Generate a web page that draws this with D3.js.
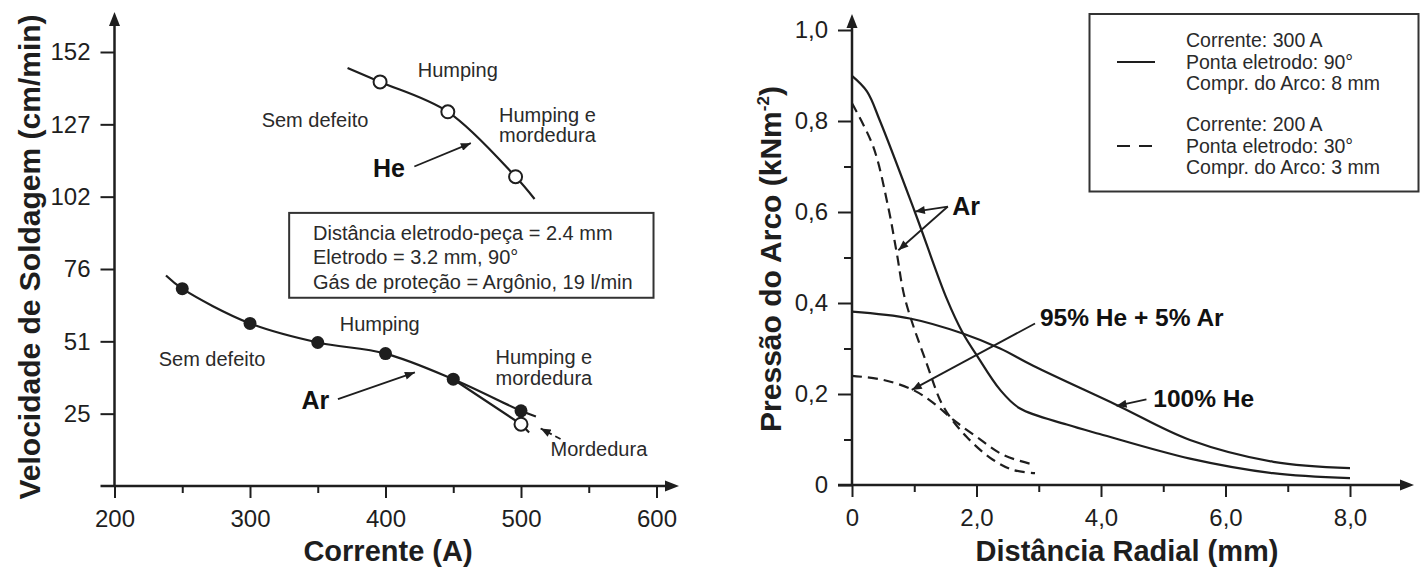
<!DOCTYPE html>
<html lang="pt">
<head>
<meta charset="UTF-8">
<title>Velocidade de soldagem e pressão do arco</title>
<script src="https://d3js.org/d3.v7.min.js"></script>
<style>
  body { margin: 0; background: #fff; }
  text { font-family: "Liberation Sans", Arial, sans-serif; }
</style>
</head>
<body>
<script>
// left chart: welding speed (cm/min) vs current (A)
const arCurrent = [250, 300, 350, 400, 450, 500];
const arSpeed = [69.3, 57.1, 50.4, 46.5, 37.5, 26.4];
const arLineCurrent = [238, 250, 300, 350, 400, 450, 500, 511];
const arLineSpeed = [73.9, 69.3, 57.1, 50.4, 46.5, 37.5, 26.4, 24.4];
const arUndercutCurrent = [450, 500, 506];
const arUndercutSpeed = [37.5, 21.7, 18.8];
const arOpenCurrent = [500];
const arOpenSpeed = [21.7];
const heCurrent = [396, 446, 496];
const heSpeed = [141.9, 131.4, 108.6];
const heLineCurrent = [372, 396, 446, 496, 510];
const heLineSpeed = [146.8, 141.9, 131.4, 108.6, 100.8];
const leftXTicks = [200, 300, 400, 500, 600];
const leftXMinor = [250, 350, 450, 550];
const leftYTicks = [25.4, 50.8, 76.2, 101.6, 127, 152.4];
const leftYTickLabels = ["25", "51", "76", "102", "127", "152"];
const conditions = ["Distância eletrodo-peça = 2.4 mm", "Eletrodo = 3.2 mm, 90°", "Gás de proteção = Argônio, 19 l/min"];

// right chart: arc pressure vs radial distance
const arSolidR = [0, 0.24, 0.45, 1.01, 1.52, 1.78, 2.0, 2.38, 2.7, 3.45, 3.98, 5.43, 6.76, 8.0];
const arSolidP = [0.899, 0.865, 0.80, 0.60, 0.41, 0.334, 0.286, 0.209, 0.168, 0.133, 0.112, 0.058, 0.026, 0.015];
const heSolidR = [0, 0.93, 1.78, 2.38, 2.91, 4.25, 5.43, 6.77, 8.0];
const heSolidP = [0.381, 0.366, 0.333, 0.30, 0.262, 0.176, 0.099, 0.051, 0.037];
const arDashR = [0, 0.34, 0.58, 0.72, 0.85, 1.2, 1.47, 1.84, 2.27, 2.59, 2.94];
const arDashP = [0.839, 0.744, 0.612, 0.509, 0.41, 0.267, 0.172, 0.106, 0.055, 0.033, 0.026];
const heDashR = [0, 0.5, 0.98, 1.31, 1.63, 2.0, 2.43, 2.94];
const heDashP = [0.24, 0.231, 0.209, 0.18, 0.143, 0.106, 0.066, 0.044];
const rightXTicks = [0, 2, 4, 6, 8];
const rightXTickLabels = ["0", "2,0", "4,0", "6,0", "8,0"];
const rightXMinor = [1, 3, 5, 7];
const rightYTicks = [0, 0.2, 0.4, 0.6, 0.8, 1.0];
const rightYTickLabels = ["0", "0,2", "0,4", "0,6", "0,8", "1,0"];
const rightYMinor = [0.1, 0.3, 0.5, 0.7];
const legendSolid = ["Corrente: 300 A", "Ponta eletrodo: 90°", "Compr. do Arco: 8 mm"];
const legendDashed = ["Corrente: 200 A", "Ponta eletrodo: 30°", "Compr. do Arco: 3 mm"];

const ink = "#1e1e1e";
const svg = d3.select("body").append("svg").attr("width", 1420).attr("height", 570);

const defs = svg.append("defs");
defs.append("marker").attr("id", "head")
  .attr("viewBox", "0 0 10 8").attr("refX", 10).attr("refY", 4)
  .attr("markerWidth", 11).attr("markerHeight", 8)
  .attr("markerUnits", "userSpaceOnUse").attr("orient", "auto")
  .append("path").attr("d", "M0,0L10,4L0,8Z").attr("fill", ink);

const xL = d3.scaleLinear().domain([200, 600]).range([114.5, 656.5]);
const yL = d3.scaleLinear().domain([0, 152.4]).range([486, 52]);
const xR = d3.scaleLinear().domain([0, 8]).range([852, 1350]);
const yR = d3.scaleLinear().domain([0, 1]).range([485, 30]);

function styleAxis(g) {
  g.select(".domain").remove();
  g.selectAll("line").attr("stroke", ink).attr("stroke-width", 2);
  g.selectAll("text").attr("fill", ink).style("font-size", "24px")
    .style("font-family", "'Liberation Sans', Arial, sans-serif");
}

function drawAxes(x, y, xTicks, xLabels, xMinor, yTicks, yLabels, yMinor, xEnd, yTop) {
  const x0 = x.range()[0], y0 = y.range()[0];
  svg.append("g").attr("transform", `translate(0,${y0})`)
    .call(d3.axisBottom(x).tickValues(xTicks).tickFormat((d, i) => xLabels[i]).tickSize(12).tickPadding(12))
    .call(styleAxis);
  svg.append("g").attr("transform", `translate(0,${y0})`)
    .call(d3.axisBottom(x).tickValues(xMinor).tickFormat("").tickSize(7))
    .call(styleAxis);
  svg.append("g").attr("transform", `translate(${x0},0)`)
    .call(d3.axisLeft(y).tickValues(yTicks).tickFormat((d, i) => yLabels[i]).tickSize(14).tickPadding(10))
    .call(styleAxis);
  if (yMinor.length) {
    svg.append("g").attr("transform", `translate(${x0},0)`)
      .call(d3.axisLeft(y).tickValues(yMinor).tickFormat("").tickSize(8))
      .call(styleAxis);
  }
  svg.append("line").attr("x1", x0 - 14).attr("x2", xEnd - 10).attr("y1", y0).attr("y2", y0)
    .attr("stroke", ink).attr("stroke-width", 2.5);
  svg.append("line").attr("x1", x0).attr("x2", x0).attr("y1", y0).attr("y2", yTop + 10)
    .attr("stroke", ink).attr("stroke-width", 2.5);
  svg.append("path").attr("d", `M${xEnd},${y0}L${xEnd - 14},${y0 - 5.5}L${xEnd - 14},${y0 + 5.5}Z`).attr("fill", ink);
  svg.append("path").attr("d", `M${x0},${yTop}L${x0 - 5.5},${yTop + 14}L${x0 + 5.5},${yTop + 14}Z`).attr("fill", ink);
}

drawAxes(xL, yL, leftXTicks, leftXTicks.map(String), leftXMinor, leftYTicks, leftYTickLabels, [], 679, 12);
drawAxes(xR, yR, rightXTicks, rightXTickLabels, rightXMinor, rightYTicks, rightYTickLabels, rightYMinor, 1414, 14);

// axis titles
svg.append("text").attr("x", 388).attr("y", 561).attr("text-anchor", "middle")
  .attr("font-size", 29).attr("font-weight", "bold").attr("fill", ink).text("Corrente (A)");
svg.append("text").attr("x", 1127).attr("y", 561).attr("text-anchor", "middle")
  .attr("font-size", 29).attr("font-weight", "bold").attr("fill", ink).text("Distância Radial (mm)");
svg.append("text").attr("transform", "translate(40,257) rotate(-90)").attr("text-anchor", "middle")
  .attr("font-size", 30).attr("font-weight", "bold").attr("fill", ink).text("Velocidade de Soldagem (cm/min)");
const pt = svg.append("text").attr("transform", "translate(781,259) rotate(-90)").attr("text-anchor", "middle")
  .attr("font-size", 30).attr("font-weight", "bold").attr("fill", ink);
pt.append("tspan").text("Pressão do Arco (kNm");
pt.append("tspan").attr("font-size", 17).attr("dy", -12).text("-2");
pt.append("tspan").attr("dy", 12).text(")");

// left chart curves
const lineL = d3.line().x(d => xL(d[0])).y(d => yL(d[1])).curve(d3.curveCatmullRom.alpha(0.5));
const zipped = (a, b) => a.map((v, i) => [v, b[i]]);
function curve(line, pts, dash) {
  svg.append("path").attr("d", line(pts)).attr("fill", "none").attr("stroke", ink)
    .attr("stroke-width", 2.2).attr("stroke-dasharray", dash || null);
}
curve(lineL, zipped(heLineCurrent, heLineSpeed));
curve(lineL, zipped(arLineCurrent, arLineSpeed));
curve(d3.line().x(d => xL(d[0])).y(d => yL(d[1])), zipped(arUndercutCurrent, arUndercutSpeed));

svg.selectAll("circle.ar").data(zipped(arCurrent, arSpeed)).join("circle").attr("class", "ar")
  .attr("cx", d => xL(d[0])).attr("cy", d => yL(d[1])).attr("r", 6.5).attr("fill", ink);
svg.selectAll("circle.open").data(zipped(heCurrent, heSpeed).concat(zipped(arOpenCurrent, arOpenSpeed)))
  .join("circle").attr("class", "open")
  .attr("cx", d => xL(d[0])).attr("cy", d => yL(d[1])).attr("r", 6.5)
  .attr("fill", "#fff").attr("stroke", ink).attr("stroke-width", 2);

function note(x, y, t, bold, size) {
  return svg.append("text").attr("x", x).attr("y", y).attr("fill", bold ? "#111" : "#2a2a2a")
    .attr("font-size", size || 20).attr("font-weight", bold ? "bold" : "normal").text(t);
}
function arrow(x1, y1, x2, y2, dash) {
  svg.append("line").attr("x1", x1).attr("y1", y1).attr("x2", x2).attr("y2", y2)
    .attr("stroke", ink).attr("stroke-width", 1.8).attr("stroke-dasharray", dash || null)
    .attr("marker-end", "url(#head)");
}

// left annotations (positioned in data units)
note(xL(423.8), yL(143.7), "Humping");
note(xL(308.6), yL(126.1), "Sem defeito");
note(xL(483.8), yL(127.9), "Humping e");
note(xL(483.8), yL(120.9), "mordedura");
note(xL(390.7), yL(108.6), "He", true, 25);
arrow(xL(421.3), yL(112.2), xL(463), yL(120.4));

svg.append("rect").attr("x", xL(328.9)).attr("y", yL(95.9))
  .attr("width", xL(597.8) - xL(328.9)).attr("height", yL(66.1) - yL(95.9))
  .attr("fill", "#fff").attr("stroke", "#333").attr("stroke-width", 2);
conditions.forEach((t, i) => note(xL(346.5), yL(86.5) + i * 24.5, t));

note(xL(366.2), yL(54.3), "Humping");
note(xL(232.6), yL(42.0), "Sem defeito");
note(xL(481.2), yL(42.7), "Humping e");
note(xL(481.2), yL(35.4), "mordedura");
note(xL(338), yL(27), "Ar", true, 25);
arrow(xL(364.9), yL(30.5), xL(421.7), yL(39.9));
note(xL(521.8), yL(10.5), "Mordedura");
arrow(xL(529.2), yL(16.5), xL(514.5), yL(20.2), "6,4");

// right chart curves
const lineR = d3.line().x(d => xR(d[0])).y(d => yR(d[1])).curve(d3.curveCatmullRom.alpha(0.5));
curve(lineR, zipped(arSolidR, arSolidP));
curve(lineR, zipped(heSolidR, heSolidP));
curve(lineR, zipped(arDashR, arDashP), "10,6");
curve(lineR, zipped(heDashR, heDashP), "10,6");

// right annotations
note(xR(1.61), yR(0.593), "Ar", true, 25);
arrow(xR(1.54), yR(0.612), xR(1.01), yR(0.601));
arrow(xR(1.54), yR(0.612), xR(0.745), yR(0.516));
note(xR(3.02), yR(0.349), "95% He + 5% Ar", true, 24.5);
arrow(xR(2.94), yR(0.355), xR(0.96), yR(0.209));
note(xR(4.84), yR(0.171), "100% He", true, 24.5);
arrow(xR(4.73), yR(0.188), xR(4.25), yR(0.174));

// legend
svg.append("rect").attr("x", 1089.5).attr("y", 14).attr("width", 329).attr("height", 177.5)
  .attr("fill", "#fff").attr("stroke", "#333").attr("stroke-width", 2);
svg.append("line").attr("x1", 1117).attr("x2", 1155).attr("y1", 62).attr("y2", 62)
  .attr("stroke", ink).attr("stroke-width", 2.2);
svg.append("line").attr("x1", 1117).attr("x2", 1155).attr("y1", 146).attr("y2", 146)
  .attr("stroke", ink).attr("stroke-width", 2.2).attr("stroke-dasharray", "13,9");
legendSolid.forEach((t, i) => note(1186, 47 + i * 21.5, t, false, 19.5));
legendDashed.forEach((t, i) => note(1186, 131 + i * 21.5, t, false, 19.5));
</script>
</body>
</html>
